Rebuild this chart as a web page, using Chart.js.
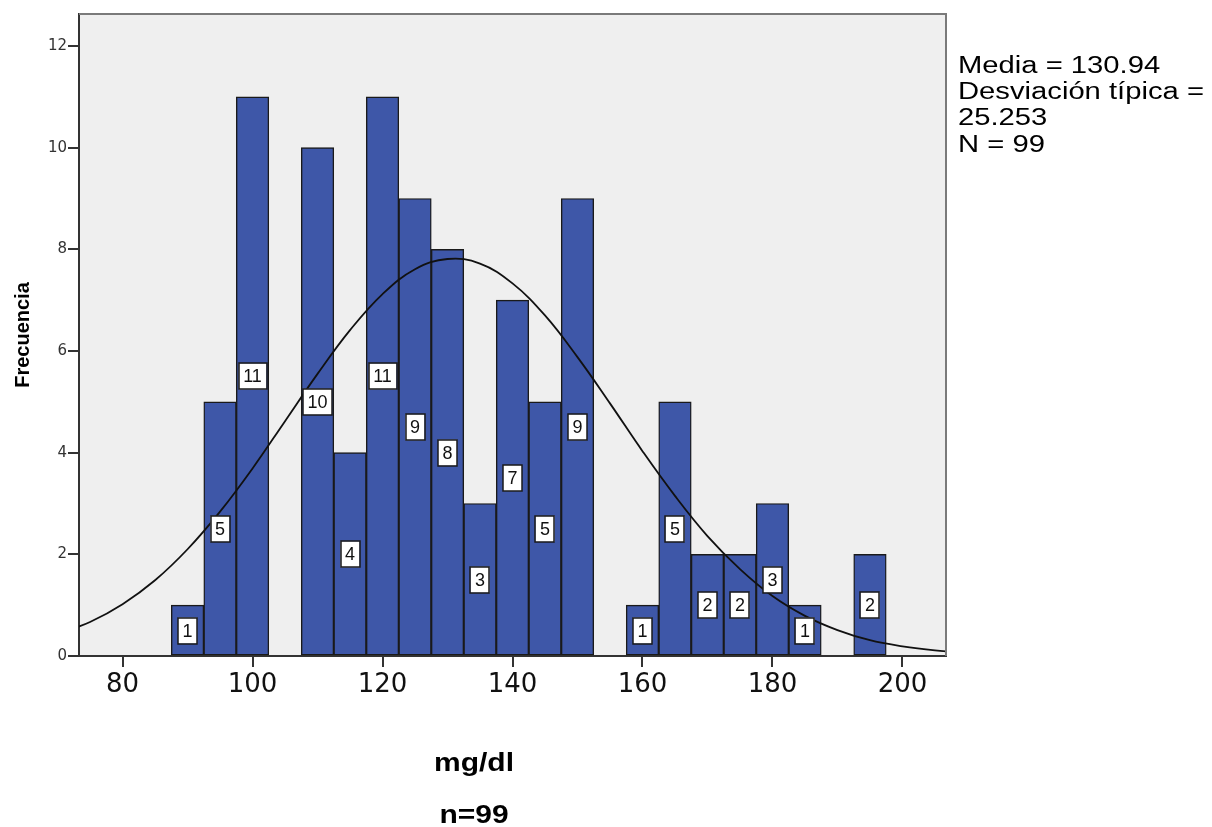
<!DOCTYPE html>
<html>
<head>
<meta charset="utf-8">
<script src="https://cdn.jsdelivr.net/npm/chart.js@4.4.1/dist/chart.umd.min.js"></script>
<style>
  html, body { margin: 0; padding: 0; background: #fff; }
  #histo { display: block; }
</style>
</head>
<body>
<canvas id="histo" width="1212" height="827"></canvas>
<script>
// bins (centre of each 5 mg/dl class) and counts
var binCenters = [90, 95, 100, 105, 110, 115, 120, 125, 130, 135, 140, 145, 150, 155, 160, 165, 170, 175, 180, 185, 190, 195];
var frecuencias = [1, 5, 11, 0, 10, 4, 11, 9, 8, 3, 7, 5, 9, 0, 1, 5, 2, 2, 3, 1, 0, 2];

// normal curve
var curvaX = [70, 75, 80, 85, 90, 95, 100, 105, 110, 115, 120, 125, 130, 135, 140, 145, 150, 155, 160, 165, 170, 175, 180, 185, 190, 195, 200, 205, 210];
var curvaY = [0.43, 0.67, 1.02, 1.49, 2.10, 2.84, 3.69, 4.62, 5.55, 6.41, 7.12, 7.61, 7.81, 7.72, 7.33, 6.70, 5.88, 4.97, 4.03, 3.15, 2.36, 1.71, 1.18, 0.79, 0.51, 0.31, 0.19, 0.11, 0.06];

var xTicks = [80, 100, 120, 140, 160, 180, 200];
var yTicks = [0, 2, 4, 6, 8, 10, 12];

var statsLines = ['Media = 130.94', 'Desviación típica =', '25.253', 'N = 99'];

var barData = binCenters.map(function (b, i) { return { x: b, y: frecuencias[i] }; });
var lineData = curvaX.map(function (x, i) { return { x: x, y: curvaY[i] }; });

var fondoPlot = {
    id: 'fondoPlot',
    beforeDraw: function (chart) {
        var a = chart.chartArea, ctx = chart.ctx;
        ctx.save();
        ctx.fillStyle = '#efefef';
        ctx.fillRect(a.left, a.top, a.right - a.left, a.bottom - a.top);
        ctx.restore();
    },
    afterDraw: function (chart) {
        var a = chart.chartArea, ctx = chart.ctx;
        ctx.save();
        // top / right frame
        ctx.strokeStyle = '#7a7a7a';
        ctx.lineWidth = 2;
        ctx.beginPath();
        ctx.moveTo(a.left, a.top);
        ctx.lineTo(a.right, a.top);
        ctx.lineTo(a.right, a.bottom);
        ctx.stroke();

        // stats box text (SPSS text looks a bit stretched)
        ctx.fillStyle = '#000';
        ctx.font = '23px "Liberation Sans", Arial, sans-serif';
        ctx.textBaseline = 'alphabetic';
        ctx.textAlign = 'left';
        statsLines.forEach(function (t, i) {
            ctx.save();
            ctx.translate(958, 73 + i * 26.2);
            ctx.scale(1.27, 1);
            ctx.fillText(t, 0, 0);
            ctx.restore();
        });

        // x axis title and n
        ctx.font = 'bold 25px "Liberation Sans", Arial, sans-serif';
        ctx.textAlign = 'center';
        [['mg/dl', 771], ['n=99', 823]].forEach(function (p) {
            ctx.save();
            ctx.translate(474, p[1]);
            ctx.scale(1.2, 1);
            ctx.fillText(p[0], 0, 0);
            ctx.restore();
        });
        ctx.restore();
    }
};

var etiquetas = {
    id: 'etiquetas',
    afterDatasetsDraw: function (chart) {
        var ctx = chart.ctx, xs = chart.scales.x, ys = chart.scales.y;
        ctx.save();
        ctx.font = '18px "Liberation Sans", Arial, sans-serif';
        ctx.textAlign = 'center';
        ctx.textBaseline = 'middle';
        binCenters.forEach(function (b, i) {
            var n = frecuencias[i];
            if (!n) return;
            var cx = xs.getPixelForValue(b);
            var cy = ys.getPixelForValue(n / 2);
            var w = ctx.measureText(String(n)).width + 9;
            var h = 26;
            ctx.fillStyle = '#fff';
            ctx.fillRect(cx - w / 2, cy - h / 2, w, h);
            ctx.strokeStyle = '#1a1a1a';
            ctx.lineWidth = 1.5;
            ctx.strokeRect(Math.round(cx - w / 2), Math.round(cy - h / 2), Math.round(w), h);
            ctx.fillStyle = '#111';
            ctx.fillText(String(n), cx, cy + 1);
        });
        ctx.restore();
    }
};

var ctx = document.getElementById('histo').getContext('2d');
new Chart(ctx, {
    data: {
        datasets: [
            {
                type: 'line',
                data: lineData,
                borderColor: '#111',
                borderWidth: 1.8,
                pointRadius: 0,
                tension: 0.4,
                fill: false,
                order: 0
            },
            {
                type: 'bar',
                data: barData,
                backgroundColor: '#3e57a8',
                borderColor: '#1a1a1a',
                borderWidth: 1.4,
                borderSkipped: false,
                barPercentage: 1,
                categoryPercentage: 1,
                order: 1
            }
        ]
    },
    options: {
        responsive: false,
        animation: false,
        layout: { padding: { top: 14, right: 266, left: 0, bottom: 0 } },
        plugins: {
            legend: { display: false },
            tooltip: { enabled: false }
        },
        scales: {
            x: {
                type: 'linear',
                min: 73.3,
                max: 206.7,
                offset: false,
                afterBuildTicks: function (s) {
                    s.ticks = xTicks.map(function (v) { return { value: v }; });
                },
                afterFit: function (s) { s.height = 171; },
                grid: { offset: false, drawOnChartArea: false, drawTicks: true, tickLength: 11, color: '#333', lineWidth: 2 },
                border: { color: '#333', width: 2 },
                ticks: {
                    color: '#111',
                    padding: 3,
                    maxRotation: 0,
                    font: { family: '"DejaVu Sans", sans-serif', size: 26 }
                }
            },
            y: {
                min: 0,
                max: 12.63,
                afterBuildTicks: function (s) {
                    s.ticks = yTicks.map(function (v) { return { value: v }; });
                },
                afterFit: function (s) { s.width = 79; },
                grid: { drawOnChartArea: false, drawTicks: true, tickLength: 11, color: '#333', lineWidth: 2 },
                border: { color: '#333', width: 2 },
                ticks: {
                    color: '#333',
                    padding: 1,
                    font: { family: '"DejaVu Sans", sans-serif', size: 15 }
                },
                title: {
                    display: true,
                    text: 'Frecuencia',
                    color: '#000',
                    padding: { top: 11, bottom: 0 },
                    font: { family: '"Liberation Sans", Arial, sans-serif', size: 20, weight: 'bold' }
                }
            }
        }
    },
    plugins: [fondoPlot, etiquetas]
});
</script>
</body>
</html>
